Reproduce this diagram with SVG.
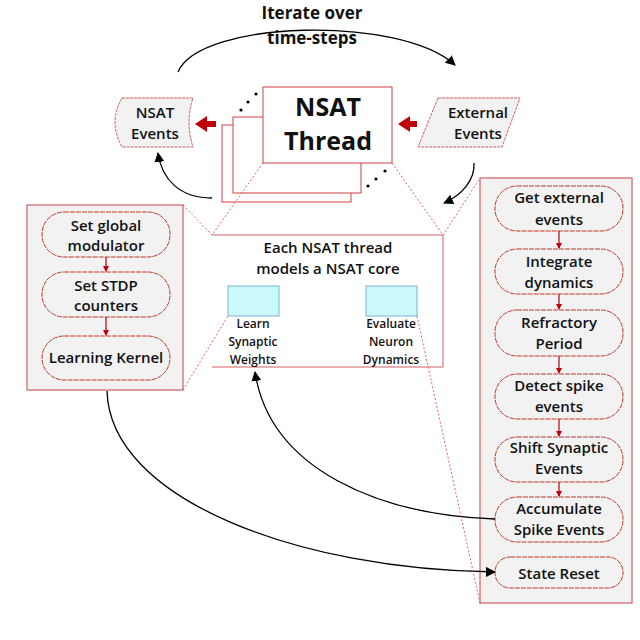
<svg xmlns="http://www.w3.org/2000/svg" width="640" height="640" viewBox="0 0 640 640">
<style>
text{font-family:"Open Sans","Liberation Sans",sans-serif;font-weight:600;font-size:15px;text-anchor:middle;fill:#111}
.pill{fill:#f2f2f2;stroke:#c0392b;stroke-width:1;stroke-dasharray:5 1}
.panel{fill:#f2f2f2;stroke:#d06060;stroke-width:1.2}
.dot{stroke:#d04040;stroke-width:0.8;stroke-dasharray:2 2;fill:none}
.blk{stroke:#000;stroke-width:1.3;fill:none}
.rd{stroke:#c0000a;stroke-width:1.2}
.sm{font-size:12px}
</style>
<defs>
<marker id="ah" markerWidth="10" markerHeight="10" refX="9" refY="5" orient="auto" markerUnits="userSpaceOnUse" viewBox="0 0 10 10"><path d="M0,0L10,5L0,10z" fill="#000"/></marker>
<marker id="ra" markerWidth="6" markerHeight="6" refX="5" refY="3" orient="auto" markerUnits="userSpaceOnUse" viewBox="0 0 6 6"><path d="M0,0L6,3L0,6z" fill="#c0000a"/></marker>
</defs>
<g id="left-panel">
<rect class="panel" x="27" y="205" width="156" height="185"/>
<rect class="pill" x="42" y="212" width="128" height="45" rx="22"/>
<text x="106" y="231">Set global</text><text x="106" y="251">modulator</text>
<rect class="pill" x="42" y="272" width="128" height="45" rx="22"/>
<text x="106" y="291">Set STDP</text><text x="106" y="311">counters</text>
<rect class="pill" x="42" y="336" width="128" height="44" rx="22"/>
<text x="106" y="363">Learning Kernel</text>
</g>
<g id="right-panel">
<rect class="panel" x="480" y="178" width="152" height="425"/>
<rect class="pill" x="495" y="186" width="128" height="45" rx="22"/>
<text x="559" y="203">Get external</text><text x="559" y="225">events</text>
<rect class="pill" x="495" y="249" width="128" height="45" rx="22"/>
<text x="559" y="267">Integrate</text><text x="559" y="288">dynamics</text>
<rect class="pill" x="495" y="310" width="128" height="46" rx="22"/>
<text x="559" y="328">Refractory</text><text x="559" y="349">Period</text>
<rect class="pill" x="495" y="374" width="128" height="45" rx="22"/>
<text x="559" y="391">Detect spike</text><text x="559" y="412">events</text>
<rect class="pill" x="495" y="437" width="128" height="45" rx="22"/>
<text x="559" y="453">Shift Synaptic</text><text x="559" y="474">Events</text>
<rect class="pill" x="495" y="497" width="128" height="45" rx="22"/>
<text x="559" y="514">Accumulate</text><text x="559" y="535">Spike Events</text>
<rect class="pill" x="495" y="557" width="128" height="31" rx="15"/>
<text x="559" y="579">State Reset</text>
</g>
<g id="center-box">
<path d="M212,235 H443 V367 H212" fill="#fff" stroke="#d06060" stroke-width="1"/>
<text x="328" y="253">Each NSAT thread</text><text x="328" y="274">models a NSAT core</text>
<rect x="228" y="286" width="51" height="30" fill="#ccf9fb" stroke="#7fb0d8"/>
<rect x="366" y="286" width="51" height="30" fill="#ccf9fb" stroke="#7fb0d8"/>
<text class="sm" x="253" y="328">Learn</text><text class="sm" x="253" y="346">Synaptic</text><text class="sm" x="253" y="364">Weights</text>
<text class="sm" x="391" y="328">Evaluate</text><text class="sm" x="391" y="346">Neuron</text><text class="sm" x="391" y="364">Dynamics</text>
</g>
<g id="nsat-thread">
<rect x="222" y="125" width="129" height="77" fill="#fff" stroke="#d04040"/>
<rect x="233" y="117" width="128" height="76" fill="#fff" stroke="#d04040"/>
<rect x="263" y="87" width="129" height="76" fill="#fff" stroke="#d04040"/>
<text x="328" y="116" style="font-size:25px;font-weight:bold">NSAT</text>
<text x="328" y="150" style="font-size:25px;font-weight:bold">Thread</text>
<circle cx="241" cy="110" r="1.6"/><circle cx="248" cy="102" r="1.6"/><circle cx="256" cy="94" r="1.6"/>
<circle cx="368" cy="186" r="1.6"/><circle cx="376" cy="179" r="1.6"/><circle cx="385" cy="171" r="1.6"/>
</g>
<g id="nsat-events">
<path d="M122,98 H193 Q185,122 193,147 H122 Q108,122 122,98z" fill="#f2f2f2" stroke="#d06060" stroke-dasharray="3 1"/>
<text x="155" y="118">NSAT</text><text x="155" y="139">Events</text>
</g>
<g id="external-events">
<path d="M438,98 H520 L502,147 H418z" fill="#f2f2f2" stroke="#d06060" stroke-dasharray="3 1"/>
<text x="478" y="118">External</text><text x="478" y="139">Events</text>
</g>
<g id="title"><text x="312" y="19" style="font-size:17px;font-weight:bold">Iterate over</text><text x="312" y="44" style="font-size:17px;font-weight:bold">time-steps</text></g>
<g id="connectors">
<path class="blk" d="M178,72 C200,20 400,15 455,65" marker-end="url(#ah)"/>
<path class="blk" d="M474,163 C475,180 462,195 444,203" marker-end="url(#ah)"/>
<path class="blk" d="M212,198 C180,198 162,180 158,153" marker-end="url(#ah)"/>
<path class="blk" d="M107,391 C110,500 300,570 495,572" marker-end="url(#ah)"/>
<path class="blk" d="M495,519 C380,515 270,470 255,372" marker-end="url(#ah)"/>
<path d="M216,124 H200" stroke="#c0000a" stroke-width="6"/><path d="M207,116 L195,124 L207,132z" fill="#c0000a"/>
<path d="M417,124 H404" stroke="#c0000a" stroke-width="6"/><path d="M410,116 L398,124 L410,132z" fill="#c0000a"/>
<line class="rd" x1="106" y1="257" x2="106" y2="271" marker-end="url(#ra)"/>
<line class="rd" x1="106" y1="317" x2="106" y2="335" marker-end="url(#ra)"/>
<line class="rd" x1="559" y1="231" x2="559" y2="248" marker-end="url(#ra)"/>
<line class="rd" x1="559" y1="294" x2="559" y2="309" marker-end="url(#ra)"/>
<line class="rd" x1="559" y1="356" x2="559" y2="373" marker-end="url(#ra)"/>
<line class="rd" x1="559" y1="419" x2="559" y2="436" marker-end="url(#ra)"/>
<line class="rd" x1="559" y1="482" x2="559" y2="496" marker-end="url(#ra)"/>
<path class="dot" d="M263,163 L212,235 L183,205"/>
<path class="dot" d="M392,163 L443,235 L480,178"/>
<path class="dot" d="M183,390 L228,316"/>
<path class="dot" d="M417,316 L480,603"/>
</g>
</svg>
